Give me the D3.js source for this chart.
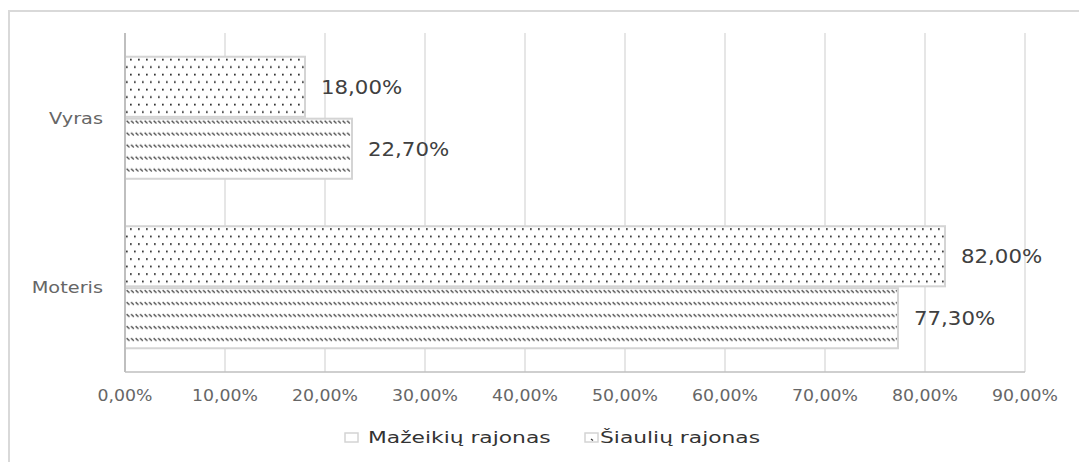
<!DOCTYPE html>
<html>
<head>
<meta charset="utf-8">
<script src="https://cdn.jsdelivr.net/npm/d3@7"></script>
<style>
  body { margin: 0; background: #fff; }
  text { font-family: "DejaVu Sans", sans-serif; }
</style>
</head>
<body>
<script>
// categories top to bottom, series top to bottom inside a category
let categories = ['Vyras', 'Moteris'];
let series = ['Šiaulių rajonas', 'Mažeikių rajonas'];
let legendOrder = ['Mažeikių rajonas', 'Šiaulių rajonas'];
let values = {
  'Šiaulių rajonas':  [0.18, 0.82],
  'Mažeikių rajonas': [0.227, 0.773]
};
let ticks = [0, 0.1, 0.2, 0.3, 0.4, 0.5, 0.6, 0.7, 0.8, 0.9];

function pct(v) { return (v * 100).toFixed(2).replace('.', ',') + '%'; }

// stretch text horizontally, the reference looks a bit wide
function widen(sel, k) {
  sel.each(function () {
    let w = this.getComputedTextLength();
    d3.select(this).attr('textLength', w * k).attr('lengthAdjust', 'spacingAndGlyphs');
  });
}

let width = 1079, height = 462;
let plot = { left: 125, right: 1025, top: 33, bottom: 372 };

let svg = d3.select('body').append('svg')
    .attr('width', width)
    .attr('height', height);

let defs = svg.append('defs');

// dotted fill
let dots = defs.append('pattern')
    .attr('id', 'dots')
    .attr('patternUnits', 'userSpaceOnUse')
    .attr('width', 16).attr('height', 15);
dots.append('rect').attr('width', 16).attr('height', 15).attr('fill', '#fff');
[[2, 2], [10, 2], [6, 9.5], [14, 9.5]].forEach(p => {
  dots.append('rect').attr('x', p[0]).attr('y', p[1]).attr('width', 1.7).attr('height', 1.7).attr('fill', '#222');
});

// rows of little back-slashes
let hatch = defs.append('pattern')
    .attr('id', 'hatch')
    .attr('patternUnits', 'userSpaceOnUse')
    .attr('width', 4.5).attr('height', 12);
hatch.append('rect').attr('width', 4.5).attr('height', 12).attr('fill', '#fff');
hatch.append('path').attr('d', 'M0.6,4 L3.4,6.6').attr('stroke', '#222').attr('stroke-width', 1.1);

let fills = { 'Šiaulių rajonas': 'url(#dots)', 'Mažeikių rajonas': 'url(#hatch)' };

// chart frame (top and left edge visible)
svg.append('path')
  .attr('d', 'M9,462 L9,11 L1079,11')
  .attr('fill', 'none')
  .attr('stroke', '#d9d9d9')
  .attr('stroke-width', 2);

let x = d3.scaleLinear().domain([0, 0.9]).range([plot.left, plot.right]);
let y = d3.scaleBand().domain(categories).range([plot.top, plot.bottom])
    .paddingInner(0.28).paddingOuter(0.14);
let ySub = d3.scaleBand().domain(series).range([0, y.bandwidth()]).paddingInner(0.03);

// gridlines
svg.append('g').selectAll('line').data(ticks.slice(1)).enter().append('line')
  .attr('x1', d => x(d)).attr('x2', d => x(d))
  .attr('y1', plot.top).attr('y2', plot.bottom)
  .attr('stroke', '#dedede').attr('stroke-width', 1.5);

// bars
let groups = svg.append('g').selectAll('g.cat').data(categories).enter().append('g')
  .attr('class', 'cat')
  .attr('transform', d => 'translate(0,' + y(d) + ')');

groups.each(function (cat, ci) {
  let g = d3.select(this);
  series.forEach(s => {
    let v = values[s][ci];
    g.append('rect')
      .attr('x', x(0))
      .attr('y', ySub(s))
      .attr('width', x(v) - x(0))
      .attr('height', ySub.bandwidth())
      .attr('fill', fills[s])
      .attr('stroke', '#d4d4d4')
      .attr('stroke-width', 2);
    g.append('text')
      .attr('class', 'vlabel')
      .attr('x', x(v) + 16)
      .attr('y', ySub(s) + ySub.bandwidth() / 2)
      .attr('dy', '0.36em')
      .attr('font-size', 19)
      .attr('fill', '#404040')
      .text(pct(v));
  });
});
widen(svg.selectAll('text.vlabel'), 1.12);

// axis lines
svg.append('line')
  .attr('x1', x(0)).attr('x2', x(0)).attr('y1', plot.top).attr('y2', plot.bottom)
  .attr('stroke', '#bfbfbf').attr('stroke-width', 2);
svg.append('line')
  .attr('x1', x(0)).attr('x2', plot.right).attr('y1', plot.bottom).attr('y2', plot.bottom)
  .attr('stroke', '#bfbfbf').attr('stroke-width', 1.5);

// x tick labels
svg.append('g').selectAll('text').data(ticks).enter().append('text')
  .attr('class', 'tick')
  .attr('x', d => x(d))
  .attr('y', 395)
  .attr('dy', '0.36em')
  .attr('text-anchor', 'middle')
  .attr('font-size', 16)
  .attr('fill', '#666')
  .text(d => pct(d));
widen(svg.selectAll('text.tick'), 1.08);

// category labels
svg.append('g').selectAll('text').data(categories).enter().append('text')
  .attr('class', 'cat')
  .attr('x', 103)
  .attr('y', d => y(d) + y.bandwidth() / 2)
  .attr('dy', '0.36em')
  .attr('text-anchor', 'end')
  .attr('font-size', 16.5)
  .attr('fill', '#666')
  .text(d => d);
widen(svg.selectAll('text.cat'), 1.17);

// legend
let legendX = { 'Mažeikių rajonas': 345, 'Šiaulių rajonas': 585 };
let legend = svg.append('g').selectAll('g').data(legendOrder).enter().append('g')
  .attr('transform', d => 'translate(' + legendX[d] + ',433)');
legend.append('rect')
  .attr('width', 13).attr('height', 9)
  .attr('fill', '#fff')
  .attr('stroke', '#d4d4d4')
  .attr('stroke-width', 1.5);
legend.filter(d => d === 'Šiaulių rajonas').append('path')
  .attr('d', 'M6,6 L8,7.5')
  .attr('stroke', '#333').attr('stroke-width', 1.2);
legend.append('text')
  .attr('class', 'leg')
  .attr('x', d => d === 'Mažeikių rajonas' ? 23 : 15)
  .attr('y', 4.5)
  .attr('dy', '0.36em')
  .attr('font-size', 16.5)
  .attr('fill', '#333')
  .text(d => d);
widen(svg.selectAll('text.leg'), 1.32);
</script>
</body>
</html>
